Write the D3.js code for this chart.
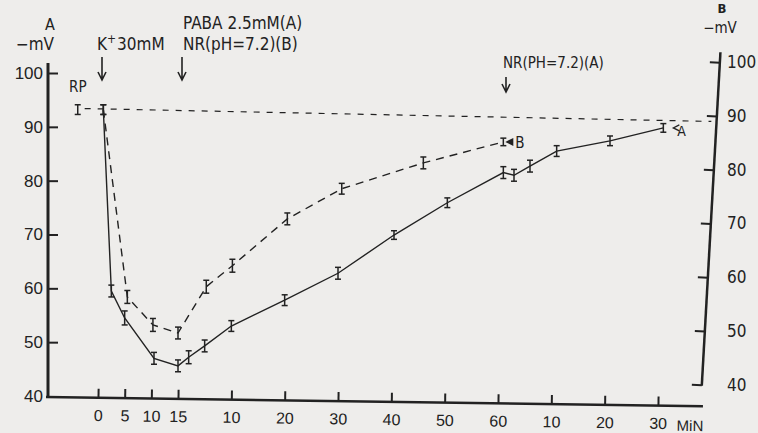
<!DOCTYPE html>
<html>
<head>
<meta charset="utf-8">
<script src="https://cdn.jsdelivr.net/npm/d3@7"></script>
<style>
body{margin:0;background:#eeedeb;}
svg{display:block;font-family:"DejaVu Sans Condensed","DejaVu Sans",sans-serif;}
</style>
</head>
<body>
<script>

// time is minutes after K+; the labels restart after PABA/NR(B) and after NR(A)
const tickMinutes = [0,5,10,15,25,35,45,55,65,75,85,95,105]
const tickLabels = ["0","5","10","15","10","20","30","40","50","60","10","20","30"]
const mvTicks = [40,50,60,70,80,90,100]

const rp = {t:-3.8, v:93.2, e:0.9}
const baseline = [{t:-2.5, v:93.4},{t:115, v:91.0}]

// curve A (solid)
const timeA = [1,2.5,5,10.5,15,17,20,25,35,45,55.5,65.5,76,78,81,86,96,106]
const mvA   = [93.2,59.5,54.5,47,45.6,47.2,49.3,53,57.8,62.8,69.9,75.9,81.5,81,82.7,85.5,87.4,89.8]
const errA  = [0.9,1.1,1.3,1.1,1.1,1.2,1.1,1.0,1.0,1.1,0.8,0.9,1.1,1.1,1.1,1.0,0.9,0.8]

// curve B (dashed)
const timeB = [1,5.5,10.3,15,20.3,25.2,35.5,45.7,61,76]
const mvB   = [93.2,58.4,53.2,51.7,60.3,64.2,72.9,78.5,83.3,87.2]
const errB  = [0.9,1.2,1.2,1.1,1.2,1.2,1.1,1.0,1.1,0.7]

const ink = "#222"
const W = 758, H = 433

const x = d3.scaleLinear().domain([0,105]).range([98,658])
const y = d3.scaleLinear().domain([40,100]).range([396,73])
const yR = d3.scaleLinear().domain([40,100]).range([385,62])

const line = d3.line()
  .x(d=>x(d.t))
  .y(d=>y(d.v))

function toPoints(ts, vs, es){
  return ts.map((t,i)=>({t:t, v:vs[i], e:es[i]}))
}

function attrs(selection, ...pairs){
  pairs.forEach(p=>selection.attr(p[0], p[1]))
  return selection
}

function errorBars(g, pts){
  let bars = g.selectAll(null).data(pts).enter().append("g")
  bars.append("line")
    .attr("x1",d=>x(d.t)).attr("x2",d=>x(d.t))
    .attr("y1",d=>y(d.v - d.e)).attr("y2",d=>y(d.v + d.e))
  bars.append("line")
    .attr("x1",d=>x(d.t)-3).attr("x2",d=>x(d.t)+3)
    .attr("y1",d=>y(d.v + d.e)).attr("y2",d=>y(d.v + d.e))
  bars.append("line")
    .attr("x1",d=>x(d.t)-3).attr("x2",d=>x(d.t)+3)
    .attr("y1",d=>y(d.v - d.e)).attr("y2",d=>y(d.v - d.e))
}

function downArrow(g, ax, y0, y1){
  g.append("path")
    .attr("d", `M${ax},${y0}V${y1}M${ax-4},${y1-8}L${ax},${y1}L${ax+4},${y1-8}`)
    .attr("fill","none").attr("stroke",ink).attr("stroke-width",1.6)
}

function label(g, txt, tx, ty, size, anchor){
  return attrs(g.append("text").text(txt),
    ["x",tx],["y",ty],["font-size",size],["fill",ink],["text-anchor",anchor||"start"])
}

function draw(){
  const svg = d3.select("body").append("svg").attr("width",W).attr("height",H)
  svg.append("rect").attr("width",W).attr("height",H).attr("fill","#eeedeb")

  // left axis
  const gl = svg.append("g").attr("transform","translate(48,0)")
  gl.call(d3.axisLeft(y).tickValues(mvTicks).tickSizeInner(-10).tickSizeOuter(0).tickPadding(5))
  gl.select(".domain").remove()
  gl.selectAll(".tick line").attr("stroke",ink).attr("stroke-width",2)
  gl.selectAll(".tick text").attr("font-size",17).attr("fill",ink).attr("font-family",null)
  gl.selectAll(".tick").filter(d=>d===40).select("line").remove()
  gl.append("line").attr("y1",63).attr("y2",397).attr("stroke",ink).attr("stroke-width",3)

  // bottom axis (drawn a little skewed like the paper)
  const gb = svg.append("g").attr("transform","rotate(0.8,48,397) translate(0,397)")
  gb.call(d3.axisBottom(x).tickValues(tickMinutes).tickFormat((d,i)=>tickLabels[i])
    .tickSizeInner(-9).tickSizeOuter(0).tickPadding(12))
  gb.select(".domain").remove()
  gb.selectAll(".tick line").attr("stroke",ink).attr("stroke-width",2)
  gb.selectAll(".tick text").attr("font-size",16).attr("fill",ink).attr("font-family",null)
  gb.append("line").attr("x1",46).attr("x2",703).attr("stroke",ink).attr("stroke-width",2.5)
  label(gb, "MiN", 677, 25, 15)

  // right axis, the line leans, the numbers do not
  const gr = svg.append("g").attr("transform","translate(711,0) rotate(3.2,0,221)")
  gr.call(d3.axisRight(yR).tickValues(mvTicks).tickFormat("").tickSizeInner(-10).tickSizeOuter(0))
  gr.select(".domain").remove()
  gr.selectAll(".tick line").attr("stroke",ink).attr("stroke-width",2)
  gr.append("line").attr("y1",52).attr("y2",386).attr("stroke",ink).attr("stroke-width",2.5)
  svg.append("g").selectAll(null).data(mvTicks).enter().append("text")
    .text(d=>d).attr("x",727).attr("y",d=>yR(d)).attr("dy","0.35em")
    .attr("font-size",17).attr("fill",ink)

  // axis titles
  label(svg, "A", 50, 30, 16, "middle")
  label(svg, "−mV", 35, 50, 17, "middle")
  label(svg, "B", 722, 13, 13, "middle").attr("font-weight","bold")
  label(svg, "−mV", 720, 33, 15, "middle")

  // reference line at resting potential
  svg.append("path").datum(baseline).attr("d",line)
    .attr("fill","none").attr("stroke",ink).attr("stroke-width",1.2).attr("stroke-dasharray","6,7")

  const ptsA = toPoints(timeA, mvA, errA)
  const ptsB = toPoints(timeB, mvB, errB)

  svg.append("path").datum(ptsB).attr("d",line)
    .attr("fill","none").attr("stroke",ink).attr("stroke-width",1.4).attr("stroke-dasharray","8,6")
  svg.append("path").datum(ptsA).attr("d",line)
    .attr("fill","none").attr("stroke",ink).attr("stroke-width",1.4)

  const eg = svg.append("g").attr("stroke",ink).attr("stroke-width",1.5)
  errorBars(eg, [rp])
  errorBars(eg, ptsA)
  errorBars(eg, ptsB)

  label(svg, "RP", 69, 92, 15)

  // treatment annotations
  const k = label(svg, "K", 97, 50, 17)
  k.append("tspan").text("+").attr("dy",-7).attr("font-size",12)
  k.append("tspan").text("30mM").attr("dy",7).attr("dx",1)
  label(svg, "PABA 2.5mM(A)", 183, 29, 17)
  label(svg, "NR(pH=7.2)(B)", 183, 50, 17)
  label(svg, "NR(PH=7.2)(A)", 503, 68, 15)
  downArrow(svg, 102, 57, 80)
  downArrow(svg, 182, 57, 80)
  downArrow(svg, 506, 77, 92)

  // curve end labels
  const endB = ptsB[ptsB.length-1]
  svg.append("path")
    .attr("d",`M${x(endB.t)+2},${y(endB.v)}l8,-4v8z`).attr("fill",ink)
  label(svg, "B", x(endB.t)+12, y(endB.v)+6, 15)
  const endA = ptsA[ptsA.length-1]
  svg.append("path")
    .attr("d",`M${x(endA.t)+16},${y(endA.v)-3}l-6,3l6,3`).attr("fill","none").attr("stroke",ink).attr("stroke-width",1.3)
  label(svg, "A", x(endA.t)+14, y(endA.v)+8, 14)
}

draw()
</script>
</body>
</html>
